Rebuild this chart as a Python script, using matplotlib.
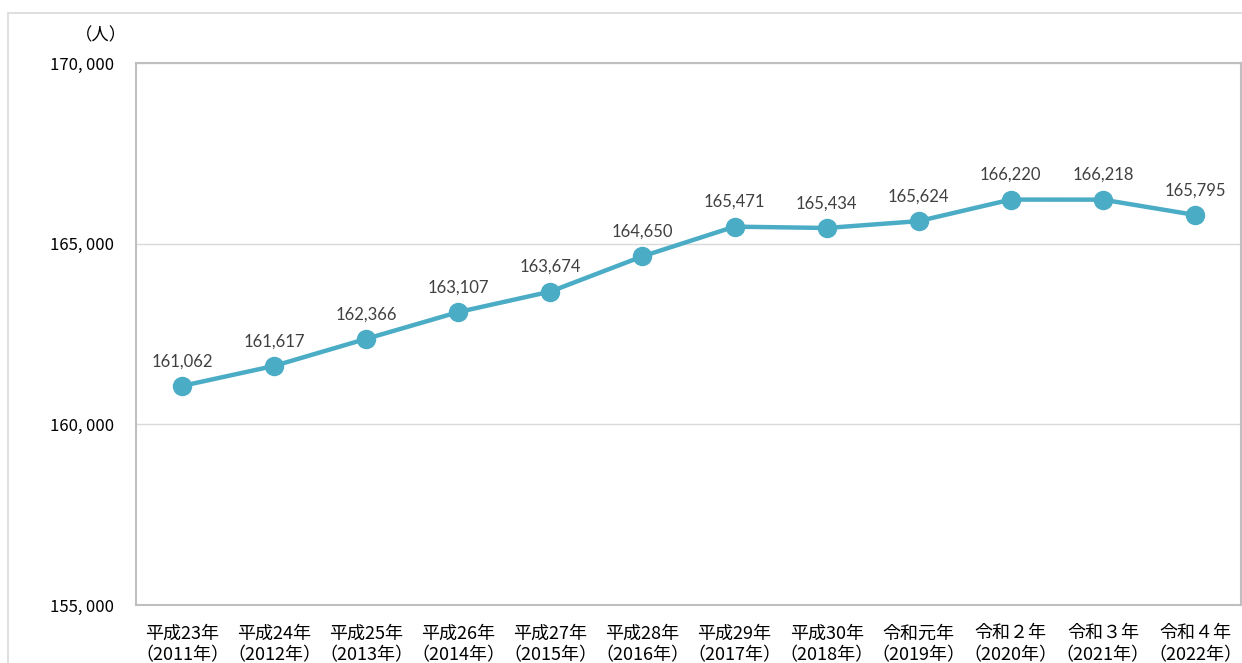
import matplotlib
matplotlib.use("Agg")
import matplotlib.pyplot as plt
from matplotlib.patches import Rectangle
from matplotlib.ticker import FuncFormatter

categories = [
    "平成23年\n（2011年）", "平成24年\n（2012年）", "平成25年\n（2013年）",
    "平成26年\n（2014年）", "平成27年\n（2015年）", "平成28年\n（2016年）",
    "平成29年\n（2017年）", "平成30年\n（2018年）", "令和元年\n（2019年）",
    "令和２年\n（2020年）", "令和３年\n（2021年）", "令和４年\n（2022年）",
]
values = [161062, 161617, 162366, 163107, 163674, 164650,
          165471, 165434, 165624, 166220, 166218, 165795]
yticks = [155000, 160000, 165000, 170000]

plt.rcParams["font.family"] = ["Noto Sans CJK JP", "DejaVu Sans"]

fig = plt.figure(figsize=(12.42, 6.63), dpi=100)
fig.patches.append(Rectangle((8 / 1242, -0.1), 1.2, 1 - 13 / 663 + 0.1,
                             transform=fig.transFigure, fill=False,
                             edgecolor="#d9d9d9", linewidth=1.2))
ax = fig.add_axes([136 / 1242, 1 - 605 / 663, 1105 / 1242, 542 / 663])

x = list(range(len(values)))
ax.plot(x, values, color="#4bacc6", linewidth=3.2, marker="o",
        markersize=13, zorder=3)
for xi, v in zip(x, values):
    ax.annotate(f"{v:,}", (xi, v), xytext=(0, 12), textcoords="offset points",
                ha="center", va="bottom", fontsize=12, color="#404040",
                family=["Lato", "DejaVu Sans"])

ax.set_xlim(-0.5, len(values) - 0.5)
ax.set_ylim(155000, 170000)
ax.set_yticks(yticks)
ax.yaxis.set_major_formatter(
    FuncFormatter(lambda v, p: f"{int(v):,}".replace(",", ",\u2009")))
ax.set_xticks(x)
ax.set_xticklabels(categories, fontsize=13, linespacing=1.25)
ax.tick_params(axis="both", length=0, colors="#000000")
ax.tick_params(axis="y", pad=16, labelsize=12)
ax.tick_params(axis="x", pad=14)
ax.grid(axis="y", color="#d9d9d9", linewidth=1)
ax.set_axisbelow(True)
for s in ax.spines.values():
    s.set_color("#bfbfbf")
    s.set_linewidth(1.5)

fig.text(101 / 1242, 1 - 35 / 663, "（人）", ha="center", va="center", fontsize=12.5)

fig.savefig("out.png", dpi=100)
